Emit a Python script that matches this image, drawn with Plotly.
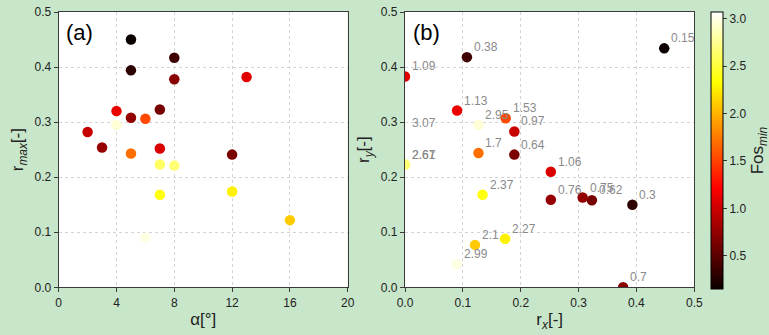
import plotly.graph_objects as go

# Minimum factor of safety for each configuration
fos = [0.15, 0.38, 0.30, 0.70, 1.09, 1.13, 0.62, 0.75, 1.53, 2.95, 0.97,
       0.76, 1.70, 1.06, 0.64, 2.61, 2.67, 2.37, 2.10, 2.27, 2.99, 3.07]
# Inclination angle alpha [deg]
alpha = [5, 8, 5, 8, 13, 4, 7, 5, 6, 4, 2,
         3, 5, 7, 12, 7, 8, 7, 16, 12, 6, 6]
# Maximum relative displacement
r_max = [0.450, 0.417, 0.394, 0.378, 0.382, 0.320, 0.323, 0.308, 0.306, 0.295, 0.282,
         0.254, 0.243, 0.252, 0.241, 0.223, 0.221, 0.168, 0.122, 0.174, 0.090, 0.280]
# Components in x and y
r_x = [0.448, 0.107, 0.393, 0.377, 0.000, 0.090, 0.323, 0.307, 0.174, 0.127, 0.189,
       0.252, 0.127, 0.252, 0.189, 0.000, 0.000, 0.134, 0.121, 0.173, 0.089, 0.000]
r_y = [0.434, 0.418, 0.150, 0.000, 0.383, 0.321, 0.158, 0.163, 0.307, 0.295, 0.283,
       0.159, 0.244, 0.210, 0.241, 0.223, 0.223, 0.168, 0.077, 0.088, 0.042, 0.280]

x_ticks_a = [0, 4, 8, 12, 16, 20]
xy_ticks = [0.0, 0.1, 0.2, 0.3, 0.4, 0.5]
cbar_ticks = [0.5, 1.0, 1.5, 2.0, 2.5, 3.0]

# matplotlib "hot" colormap
hot = [[0.0, "rgb(11,0,0)"], [0.365079, "rgb(255,0,0)"],
       [0.746032, "rgb(255,255,0)"], [1.0, "rgb(255,255,255)"]]

BG = "#c8e6c9"
FONT = "Liberation Sans, Arial, sans-serif"
W, H = 769, 335

fig = go.Figure()
fig.add_trace(go.Scatter(
    x=alpha, y=r_max, mode="markers", xaxis="x", yaxis="y",
    marker=dict(size=10.5, color=fos, coloraxis="coloraxis", line=dict(width=0)),
    showlegend=False, hoverinfo="skip"))
fig.add_trace(go.Scatter(
    x=r_x, y=r_y, mode="markers", xaxis="x2", yaxis="y2",
    marker=dict(size=10.5, color=fos, coloraxis="coloraxis", line=dict(width=0)),
    showlegend=False, hoverinfo="skip"))

annotations = []
for xv, yv, f in zip(r_x, r_y, fos):
    annotations.append(dict(
        x=xv, y=yv, xref="x2", yref="y2", text=f"{f:g}", showarrow=False,
        xanchor="left", yanchor="middle", xshift=5, yshift=10,
        font=dict(family=FONT, size=12, color="#8a8a8a")))
for ref, lab in (("x", "(a)"), ("x2", "(b)")):
    annotations.append(dict(
        x=0.02, y=0.925, xref=f"{ref} domain", yref="y domain", text=lab,
        showarrow=False, xanchor="left", yanchor="middle",
        font=dict(family=FONT, size=22, color="black")))

y_dom = [(H - 287.3) / H, (H - 12) / H]
axis_common = dict(
    showline=True, mirror=True, linecolor="#3a3a3a", linewidth=1.2,
    ticks="outside", ticklen=4, tickcolor="#3a3a3a", tickwidth=1,
    showgrid=True, gridcolor="#d3d3d3", griddash="dot", gridwidth=1,
    zeroline=False, automargin=False,
    tickfont=dict(family=FONT, size=12, color="#222"),
    title_font=dict(family=FONT, size=17, color="#222"))

fig.update_layout(
    width=W, height=H, margin=dict(l=0, r=0, t=0, b=0, autoexpand=False),
    paper_bgcolor=BG, plot_bgcolor="white",
    font=dict(family=FONT),
    xaxis=dict(domain=[58.7 / W, 347.7 / W], range=[0, 20], tickvals=x_ticks_a,
               title=dict(text="α[°]", standoff=4), **axis_common),
    yaxis=dict(domain=y_dom, range=[0, 0.5], tickvals=xy_ticks, tickformat=".1f",
               title=dict(text="r<sub><i>max</i></sub>[-]", standoff=6), **axis_common),
    xaxis2=dict(domain=[405 / W, 694.3 / W], range=[0, 0.5], tickvals=xy_ticks,
                tickformat=".1f", anchor="y2",
                title=dict(text="r<sub><i>x</i></sub>[-]", standoff=4), **axis_common),
    yaxis2=dict(domain=y_dom, range=[0, 0.5], tickvals=xy_ticks, tickformat=".1f",
                anchor="x2",
                title=dict(text="r<sub><i>y</i></sub>[-]", standoff=6), **axis_common),
    coloraxis=dict(
        colorscale=hot, cmin=0.15, cmax=3.07,
        colorbar=dict(
            x=711 / W, xanchor="left", xpad=0,
            y=(H - 12) / H, yanchor="top", ypad=0,
            len=276.7, lenmode="pixels", thickness=12, thicknessmode="pixels",
            outlinewidth=1, outlinecolor="black",
            tickvals=cbar_ticks, tickformat=".1f", ticks="outside", ticklen=4,
            tickcolor="#3a3a3a", tickfont=dict(family=FONT, size=12, color="#222"),
            title=dict(text="Fos<sub><i>min</i></sub>", side="right",
                       font=dict(family=FONT, size=17, color="#222")))),
    annotations=annotations)

fig.write_html("out.html")
